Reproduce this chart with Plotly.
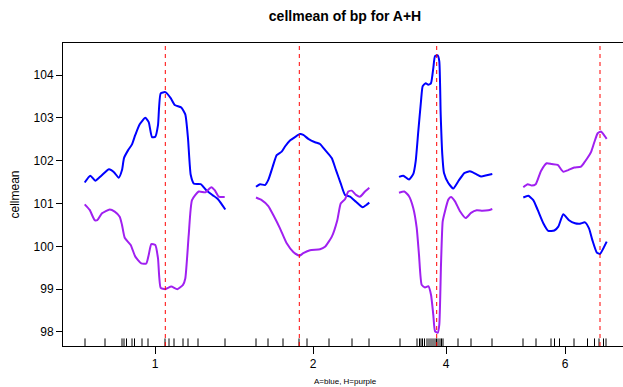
import plotly.graph_objects as go

# ---- data (x = position along the plotted axis, y = cellmean) ----
blue_seg1_x = [84.7, 90.3, 95.3, 101.3, 109, 114, 118.7, 122, 124, 128, 132, 135.3, 139.7, 145.3, 148.7, 152, 155.3, 158, 160.7, 165.3, 170.7, 174.7, 181.3, 185.3, 188, 190.7, 194, 200.7, 206.3, 212.3, 218, 225.3]
blue_seg1_y = [101.49, 101.65, 101.53, 101.65, 101.80, 101.73, 101.60, 101.78, 102.06, 102.24, 102.38, 102.60, 102.85, 103.00, 102.90, 102.55, 102.56, 102.83, 103.57, 103.60, 103.46, 103.30, 103.24, 103.08, 102.52, 101.67, 101.46, 101.45, 101.31, 101.20, 101.10, 100.86]
purple_seg1_x = [84.7, 89.7, 94.7, 97.3, 102, 109.7, 114.7, 119.7, 122, 124.7, 130.7, 135.3, 141.3, 146.3, 148.7, 151.3, 155.3, 158, 160.7, 165.3, 171.3, 177.3, 183, 185.3, 188.7, 192, 198.7, 205.3, 211.3, 214.7, 218.7, 224.7]
purple_seg1_y = [100.98, 100.85, 100.61, 100.61, 100.77, 100.86, 100.81, 100.69, 100.50, 100.20, 100.03, 99.76, 99.60, 99.60, 99.80, 100.05, 100.03, 99.72, 99.03, 99.00, 99.06, 99.00, 99.10, 99.25, 100.26, 101.08, 101.28, 101.26, 101.38, 101.31, 101.16, 101.15]

blue_seg2_x = [256, 260, 265, 268.3, 272.7, 276.7, 281.7, 285, 290, 295, 300, 303.3, 308.3, 315, 320, 325, 331.7, 336, 340.7, 345, 350, 356, 362.7, 366, 369.3]
blue_seg2_y = [101.39, 101.45, 101.43, 101.55, 101.86, 102.13, 102.21, 102.33, 102.47, 102.55, 102.62, 102.60, 102.51, 102.43, 102.39, 102.25, 102.06, 101.78, 101.47, 101.20, 101.16, 101.04, 100.91, 100.96, 101.02]
purple_seg2_x = [256, 261.7, 268.3, 273.3, 280, 286.7, 293.3, 299.3, 303.3, 310, 320, 325, 331.7, 337.3, 340.7, 345, 348.3, 351.7, 356, 360, 365, 369.3]
purple_seg2_y = [101.14, 101.08, 100.94, 100.73, 100.42, 100.07, 99.87, 99.78, 99.84, 99.91, 99.93, 99.99, 100.22, 100.61, 101.00, 101.10, 101.28, 101.30, 101.20, 101.16, 101.28, 101.37]

blue_seg3_x = [399, 403.3, 409, 413.3, 415.7, 418.3, 421, 422.7, 425.7, 428.3, 431, 433.3, 435, 437.7, 439.3, 440.7, 442.3, 444, 448.3, 453.3, 458.3, 464.3, 470, 475.7, 481, 486.7, 492.3]
blue_seg3_y = [101.62, 101.65, 101.56, 101.69, 101.99, 102.69, 103.39, 103.74, 103.81, 103.77, 103.81, 104.16, 104.44, 104.46, 104.32, 103.07, 102.14, 101.71, 101.48, 101.35, 101.52, 101.71, 101.75, 101.69, 101.63, 101.66, 101.69]
purple_seg3_x = [399, 404.3, 409, 413.3, 416.7, 419, 421.7, 425, 428.3, 431, 433.3, 435, 437.7, 439.3, 441, 442.7, 445, 448.3, 451, 455, 460, 465.7, 471, 476.7, 482.3, 488.3, 492.3]
purple_seg3_y = [101.25, 101.28, 101.17, 100.89, 100.43, 99.80, 99.10, 99.04, 99.07, 98.87, 98.40, 98.02, 97.98, 98.17, 99.57, 100.58, 100.82, 101.09, 101.15, 101.05, 100.82, 100.66, 100.78, 100.84, 100.83, 100.84, 100.87]

blue_seg4_x = [523.3, 528.3, 533.3, 537.7, 543.3, 548.3, 554.3, 558.3, 563.3, 569, 575, 580, 585, 589, 592.3, 596.7, 600, 603.3, 606.7]
blue_seg4_y = [101.14, 101.18, 101.08, 100.85, 100.54, 100.36, 100.37, 100.46, 100.75, 100.61, 100.54, 100.53, 100.56, 100.42, 100.15, 99.86, 99.82, 99.95, 100.11]
purple_seg4_x = [523.3, 527.7, 531.7, 535.7, 541, 546.7, 551.7, 557.7, 563.3, 568.3, 574.3, 581, 585, 591, 594.3, 597.7, 601, 603.3, 606.7]
purple_seg4_y = [101.38, 101.45, 101.42, 101.45, 101.76, 101.94, 101.92, 101.90, 101.74, 101.78, 101.84, 101.86, 101.98, 102.20, 102.43, 102.64, 102.68, 102.62, 102.51]

# observation positions (rug)
rug_positions = [85, 105, 122, 124, 126.5, 132, 134.5, 142, 148, 165, 169, 174, 183, 188, 198, 225,
                 256, 268, 283, 299, 307, 329, 352, 369,
                 400, 417, 419.5, 421, 422.5, 424.5, 427, 429, 431, 433, 435, 436.5, 438, 440, 441.5, 443, 458, 471, 492,
                 523, 536, 551, 554.5, 559.5, 574, 587.5, 594.5, 599, 603.5, 606]

# positions of the reference (dashed) lines
peak_positions = [165.3, 299.3, 436.7, 600]

# x tick positions and labels
x_tick_positions = [155, 313, 446, 565]
x_tick_labels = ["1", "2", "4", "6"]
y_tick_values = [98, 99, 100, 101, 102, 103, 104]

BLUE = "#0000FF"
PURPLE = "#A020F0"
FONT = "Liberation Sans, Arial, Helvetica, sans-serif"

blue_segments = [(blue_seg1_x, blue_seg1_y), (blue_seg2_x, blue_seg2_y),
                 (blue_seg3_x, blue_seg3_y), (blue_seg4_x, blue_seg4_y)]
purple_segments = [(purple_seg1_x, purple_seg1_y), (purple_seg2_x, purple_seg2_y),
                   (purple_seg3_x, purple_seg3_y), (purple_seg4_x, purple_seg4_y)]

fig = go.Figure()
for (bx, by), (px, py) in zip(blue_segments, purple_segments):
    fig.add_trace(go.Scatter(x=bx, y=by, mode="lines",
                             line=dict(color=BLUE, width=2, shape="spline", smoothing=0.5),
                             showlegend=False, hoverinfo="skip"))
    fig.add_trace(go.Scatter(x=px, y=py, mode="lines",
                             line=dict(color=PURPLE, width=2, shape="spline", smoothing=0.5),
                             showlegend=False, hoverinfo="skip"))

shapes = []
for r in rug_positions:
    shapes.append(dict(type="line", xref="x", yref="paper", x0=r, x1=r, y0=0, y1=0.025,
                       line=dict(color="black", width=1), layer="above"))
for p in peak_positions:
    shapes.append(dict(type="line", xref="x", yref="paper", x0=p, x1=p, y0=0, y1=1,
                       line=dict(color="#FF0000", width=1, dash="4px,4px"), layer="above"))

PLOT_W = 623 - 63
PLOT_H = 387 - 43 - 41

fig.update_layout(
    width=623, height=387,
    margin=dict(l=63, r=0, t=43, b=41, autoexpand=False),
    paper_bgcolor="white", plot_bgcolor="white",
    font=dict(family=FONT, color="black", size=12),
    title=dict(text="<b>cellmean of bp for A+H</b>", font=dict(size=14, color="black", family=FONT),
               x=345 / 623, xref="container", xanchor="center",
               y=1 - 16 / 387, yref="container", yanchor="middle"),
    shapes=shapes,
    annotations=[
        dict(text="A=blue, H=purple", xref="paper", yref="paper",
             x=(345 - 63) / PLOT_W, y=-(381 - 43 - PLOT_H) / PLOT_H,
             xanchor="center", yanchor="middle", showarrow=False,
             font=dict(size=8, color="black", family=FONT)),
        dict(text="cellmean", xref="paper", yref="paper",
             x=(14 - 63) / PLOT_W, y=0.5, textangle=-90,
             xanchor="center", yanchor="middle", showarrow=False,
             font=dict(size=12, color="black", family=FONT)),
    ],
    xaxis=dict(range=[63, 623], tickmode="array", tickvals=x_tick_positions, ticktext=x_tick_labels,
               ticks="outside", ticklen=7, tickwidth=1, tickcolor="black",
               showline=True, mirror=True, linecolor="black", linewidth=1,
               showgrid=False, zeroline=False, automargin=False,
               tickfont=dict(size=12, color="black")),
    yaxis=dict(range=[97.673, 104.747], tickmode="array", tickvals=y_tick_values,
               ticks="outside", ticklen=6, tickwidth=1, tickcolor="black",
               showline=True, mirror=False, linecolor="black", linewidth=1,
               showgrid=False, zeroline=False, automargin=False,
               tickfont=dict(size=12, color="black")),
)

fig.write_html("out.html", config={"displayModeBar": False},
               post_script="document.body.style.margin='0px';document.body.style.overflow='hidden';")
